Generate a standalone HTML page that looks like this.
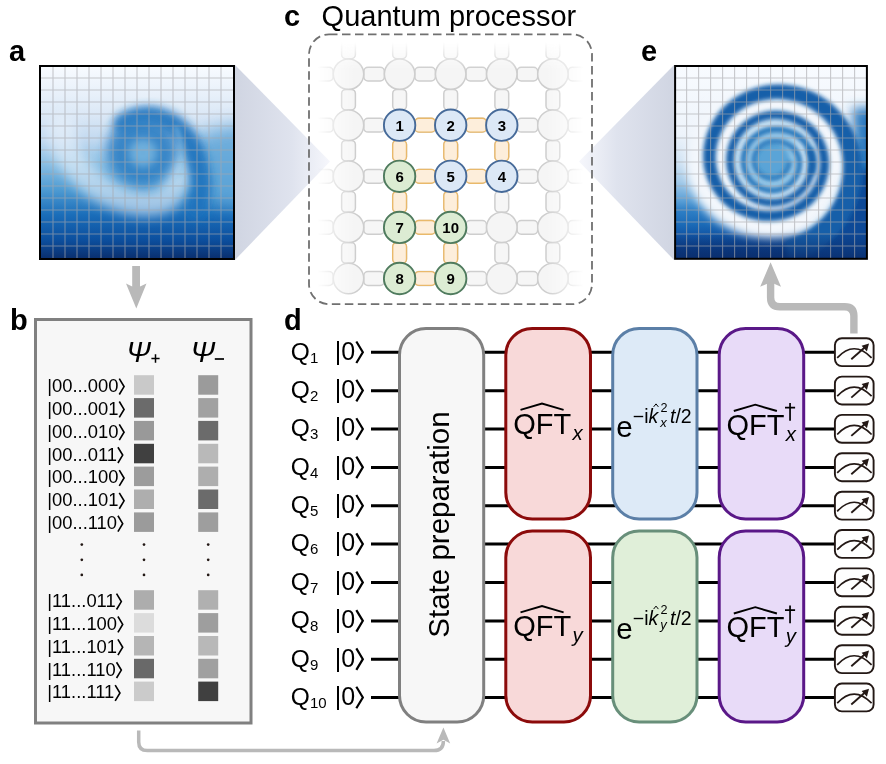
<!DOCTYPE html>
<html><head><meta charset="utf-8"><title>Quantum processor figure</title>
<style>html,body{margin:0;padding:0;background:#fff;}body{width:886px;height:764px;overflow:hidden;}svg{display:block;will-change:transform;}text{font-family:"Liberation Sans",sans-serif;}</style>
</head><body>
<svg width="886" height="764" viewBox="0 0 886 764">
<defs>
<linearGradient id="bgA" x1="0" y1="0" x2="0" y2="1">
<stop offset="0" stop-color="#f8fbff"/>
<stop offset="0.25" stop-color="#dbe8f6"/>
<stop offset="0.38" stop-color="#c2d9f0"/>
<stop offset="0.50" stop-color="#8cc0e4"/>
<stop offset="0.64" stop-color="#4f9cd3"/>
<stop offset="0.775" stop-color="#1a6db9"/>
<stop offset="0.905" stop-color="#0c4f9e"/>
<stop offset="1" stop-color="#0a3070"/>
</linearGradient>
<linearGradient id="bgE" x1="0" y1="0" x2="0" y2="1">
<stop offset="0" stop-color="#f8fbff"/>
<stop offset="0.35" stop-color="#eef4fb"/>
<stop offset="0.50" stop-color="#cfe2f3"/>
<stop offset="0.60" stop-color="#a3cae9"/>
<stop offset="0.70" stop-color="#5a9fd6"/>
<stop offset="0.75" stop-color="#2f80c6"/>
<stop offset="0.82" stop-color="#1c6cb8"/>
<stop offset="0.875" stop-color="#1258a8"/>
<stop offset="0.96" stop-color="#0b3f8a"/>
<stop offset="1" stop-color="#0a3276"/>
</linearGradient>
<linearGradient id="navy" x1="0" y1="0" x2="0" y2="1"><stop offset="0" stop-color="#0a2f70" stop-opacity="0"/><stop offset="1" stop-color="#0a2f70" stop-opacity="0.9"/></linearGradient>
<linearGradient id="triL" x1="0" y1="0" x2="1" y2="0"><stop offset="0" stop-color="#d0d5e2"/><stop offset="0.6" stop-color="#dfe3ee"/><stop offset="1" stop-color="#f6f7fc"/></linearGradient>
<linearGradient id="triR" x1="1" y1="0" x2="0" y2="0"><stop offset="0" stop-color="#d0d5e2"/><stop offset="0.6" stop-color="#dfe3ee"/><stop offset="1" stop-color="#f6f7fc"/></linearGradient>
<filter id="bl0" filterUnits="userSpaceOnUse" x="0" y="0" width="886" height="764"><feGaussianBlur stdDeviation="1.9"/></filter>
<filter id="bl1" filterUnits="userSpaceOnUse" x="0" y="0" width="886" height="764"><feGaussianBlur stdDeviation="2.5"/></filter>
<filter id="bl2" filterUnits="userSpaceOnUse" x="0" y="0" width="886" height="764"><feGaussianBlur stdDeviation="4"/></filter>
<filter id="bl3" filterUnits="userSpaceOnUse" x="0" y="0" width="886" height="764"><feGaussianBlur stdDeviation="6"/></filter>
<filter id="bl4" filterUnits="userSpaceOnUse" x="0" y="0" width="886" height="764"><feGaussianBlur stdDeviation="9"/></filter>
<clipPath id="clipA"><rect x="41" y="67" width="192" height="191"/></clipPath>
<clipPath id="clipE"><rect x="676" y="67" width="190.5" height="191.5"/></clipPath>
<linearGradient id="fx" x1="0" y1="0" x2="1" y2="0">
<stop offset="0" stop-color="#000"/><stop offset="0.03" stop-color="#000"/><stop offset="0.16" stop-color="#fff"/>
<stop offset="0.84" stop-color="#fff"/><stop offset="0.97" stop-color="#000"/><stop offset="1" stop-color="#000"/></linearGradient>
<linearGradient id="fy" x1="0" y1="0" x2="0" y2="1">
<stop offset="0" stop-color="#000"/><stop offset="0.03" stop-color="#000"/><stop offset="0.13" stop-color="#fff"/>
<stop offset="1" stop-color="#fff"/></linearGradient>
<mask id="mx" maskUnits="userSpaceOnUse" x="300" y="30" width="300" height="280"><rect x="309" y="34" width="283" height="270" fill="url(#fx)"/></mask>
<mask id="my" maskUnits="userSpaceOnUse" x="300" y="30" width="300" height="280"><rect x="309" y="34" width="283" height="270" fill="url(#fy)"/></mask>
</defs>
<rect width="886" height="764" fill="#fff"/>
<polygon points="235,65 235,260 330,161.5" fill="url(#triL)"/>
<polygon points="674,65 674,260 579,161.5" fill="url(#triR)"/>
<g clip-path="url(#clipA)">
<rect x="41" y="67" width="192" height="191" fill="url(#bgA)"/>
<ellipse cx="242" cy="166" rx="60" ry="40" fill="#5ea5d8" filter="url(#bl4)" opacity="0.85"/>
<path d="M 62 126 C 60 160, 94 192, 128 200 S 174 198, 180 170" fill="none" stroke="#e9f2fb" stroke-width="27" stroke-linecap="round" filter="url(#bl3)" opacity="0.62"/>
<path d="M 124 124 C 150 106, 186 122, 196 158 S 199 190, 197 208" fill="none" stroke="#1f72bd" stroke-width="21" stroke-linecap="round" filter="url(#bl2)" opacity="0.9"/>
<circle cx="142" cy="151" r="35" fill="#2f80c5" filter="url(#bl3)" opacity="0.92"/>
<circle cx="143" cy="153" r="14" fill="#84bfe4" filter="url(#bl2)" opacity="0.72"/>
<path d="M 176 128 C 182 140, 184 156, 180 176" fill="none" stroke="#8cc3e6" stroke-width="5" stroke-linecap="round" filter="url(#bl1)" opacity="0.55"/>
<path d="M53 67V258 M65 67V258 M77 67V258 M89 67V258 M101 67V258 M113 67V258 M125 67V258 M137 67V258 M149 67V258 M161 67V258 M173 67V258 M185 67V258 M197 67V258 M209 67V258 M221 67V258 M41 78H233 M41 90H233 M41 102H233 M41 114H233 M41 126H233 M41 138H233 M41 150H233 M41 162H233 M41 174H233 M41 186H233 M41 198H233 M41 210H233 M41 222H233 M41 234H233 M41 246H233" stroke="#a8a8ac" stroke-opacity="0.62" stroke-width="1.1" fill="none"/>
</g>
<rect x="40" y="66" width="194" height="193" fill="none" stroke="#000" stroke-width="2"/>
<g clip-path="url(#clipE)">
<rect x="676" y="67" width="191" height="191" fill="url(#bgE)"/>
<ellipse cx="772" cy="161" rx="86" ry="78" fill="#f3f7fc" filter="url(#bl2)"/>
<path d="M 880 108 L 852 108 C 858 150, 852 196, 822 226 C 808 240, 796 250, 790 270 L 880 270 Z" fill="#2b79bf" filter="url(#bl3)"/>
<path d="M 880 170 L 852 170 C 850 200, 838 222, 818 238 C 806 248, 800 256, 796 270 L 880 270 Z" fill="#0d4a97" filter="url(#bl2)"/>
<ellipse cx="772.3" cy="160.0" rx="42" ry="45" fill="#cfe4f4" filter="url(#bl1)"/>
<ellipse cx="772.3" cy="160.0" rx="28" ry="31" fill="#9ccbe9" filter="url(#bl1)"/>
<ellipse cx="772.3" cy="160.5" rx="18" ry="18.8" fill="#5aa4d7" filter="url(#bl1)"/>
<path d="M791.4 161.0 L791.4 161.5 L791.4 162.0 L791.4 162.5 L791.3 163.0 L791.3 163.5 L791.2 163.9 L791.1 164.4 L791.0 164.9 L790.9 165.4 L790.8 165.9 L790.7 166.4 L790.5 166.8 L790.4 167.3 L790.2 167.8 L790.0 168.2 L789.9 168.7 L789.7 169.1 L789.4 169.6 L789.2 170.0 L789.0 170.5 L788.7 170.9 L788.5 171.3 L788.2 171.7 L787.9 172.2 L787.6 172.6 L787.4 173.0 L787.0 173.3 L786.7 173.7 L786.4 174.1 L786.1 174.5 L785.7 174.8 L785.4 175.2 L785.0 175.5 L784.6 175.8 L784.2 176.1 L783.8 176.5 L783.4 176.8 L783.0 177.0 L782.6 177.3 L782.2 177.6 L781.8 177.8 L781.3 178.1 L780.9 178.3 L780.5 178.6 L780.0 178.8 L779.5 179.0 L779.1 179.2 L778.6 179.3 L778.1 179.5 L777.7 179.6 L777.2 179.8 L776.7 179.9 L776.2 180.0 L775.7 180.1 L775.2 180.2 L774.7 180.3 L774.2 180.4 L773.7 180.4 L773.2 180.5 L772.7 180.5 L772.2 180.5 L771.7 180.5 L771.2 180.5 L770.7 180.5 L770.2 180.4 L769.7 180.4 L769.2 180.3 L768.7 180.2 L768.2 180.2 L767.7 180.1 L767.2 179.9 L766.7 179.8 L766.2 179.7 L765.8 179.5 L765.3 179.4 L764.8 179.2 L764.3 179.0 L763.9 178.8 L763.4 178.6 L762.9 178.4 L762.5 178.1 L762.0 177.9 L761.6 177.6 L761.2 177.4 L760.7 177.1 L760.3 176.8 L759.9 176.5 L759.5 176.2 L759.1 175.9 L758.7 175.5 L758.3 175.2 L757.9 174.8 L757.6 174.5 L757.2 174.1 L756.9 173.7 L756.5 173.3 L756.2 172.9 L755.9 172.5 L755.6 172.1 L755.3 171.7 L755.0 171.2 L754.7 170.8 L754.5 170.4 L754.2 169.9 L754.0 169.4 L753.7 169.0 L753.5 168.5 L753.3 168.0 L753.1 167.5 L752.9 167.0 L752.8 166.5 L752.6 166.0 L752.5 165.5 L752.4 165.0 L752.2 164.5 L752.1 164.0 L752.0 163.5 L752.0 163.0 L751.9 162.4 L751.9 161.9 L751.8 161.4 L751.8 160.8 L751.8 160.3 L751.8 159.8 L751.8 159.3 L751.8 158.7 L751.9 158.2 L752.0 157.7 L752.0 157.1 L752.1 156.6 L752.2 156.1 L752.3 155.6 L752.5 155.1 L752.6 154.5 L752.8 154.0 L752.9 153.5 L753.1 153.0 L753.3 152.5 L753.5 152.0 L753.8 151.5 L754.0 151.0 L754.2 150.6 L754.5 150.1 L754.8 149.6 L755.1 149.2 L755.4 148.7 L755.7 148.3 L756.0 147.8 L756.3 147.4 L756.7 147.0 L757.0 146.6 L757.4 146.2 L757.7 145.8 L758.1 145.4 L758.5 145.0 L758.9 144.6 L759.3 144.3 L759.8 143.9 L760.2 143.6 L760.6 143.3 L761.1 143.0 L761.5 142.7 L762.0 142.4 L762.5 142.1 L763.0 141.8 L763.4 141.6 L763.9 141.3 L764.4 141.1 L764.9 140.9 L765.5 140.6 L766.0 140.4 L766.5 140.3 L767.0 140.1 L767.6 139.9 L768.1 139.8 L768.6 139.6 L769.2 139.5 L769.7 139.4 L770.3 139.3 L770.9 139.2 L771.4 139.2 L772.0 139.1 L772.5 139.1 L773.1 139.1 L773.7 139.0 L774.3 139.0 L774.8 139.0 L775.4 139.0 L776.0 139.0 L776.6 139.0 L777.2 139.0 L777.7 139.1 L778.3 139.1 L778.9 139.2 L779.5 139.3 L780.1 139.3 L780.7 139.4 L781.3 139.5 L781.9 139.6 L782.6 139.8 L783.2 139.9 L783.8 140.1 L784.4 140.3 L785.0 140.5 L785.6 140.7 L786.2 140.9 L786.8 141.1 L787.4 141.4 L788.0 141.6 L788.6 141.9 L789.2 142.2 L789.8 142.6 L790.4 142.9 L791.0 143.3 L791.6 143.6 L792.1 144.0 L792.7 144.4 L793.2 144.9 L793.8 145.3 L794.3 145.8 L794.8 146.3 L795.3 146.8 L795.8 147.3 L796.3 147.8 L796.8 148.4 L797.3 149.0 L797.7 149.5 L798.1 150.2 L798.5 150.8 L798.9 151.4 L799.3 152.0 L799.6 152.7 L799.9 153.4 L800.3 154.1 L800.5 154.8 L800.8 155.5 L801.0 156.2 L801.3 156.9 L801.5 157.7 L801.6 158.4 L801.8 159.2 L801.9 159.9 L802.0 160.7 L802.0 161.4 L802.1 162.2 L802.1 163.0 L802.1 163.8 L802.1 164.5 L802.1 165.3 L802.0 166.1 L801.9 166.9 L801.8 167.7 L801.7 168.4 L801.6 169.2 L801.4 170.0 L801.2 170.7 L801.0 171.5 L800.8 172.3 L800.6 173.0 L800.3 173.8 L800.0 174.5 L799.7 175.3 L799.4 176.0 L799.0 176.7 L798.7 177.4 L798.3 178.1 L797.9 178.8 L797.5 179.5 L797.0 180.2 L796.5 180.9 L796.1 181.5 L795.6 182.2 L795.0 182.8 L794.5 183.4 L794.0 184.0 L793.4 184.6 L792.8 185.2 L792.2 185.7 L791.6 186.3 L791.0 186.8 L790.3 187.3 L789.6 187.8 L789.0 188.3 L788.3 188.7 L787.6 189.1 L786.9 189.6 L786.1 190.0 L785.4 190.3 L784.6 190.7 L783.9 191.0 L783.1 191.3 L782.3 191.6 L781.6 191.9 L780.8 192.2 L780.0 192.4 L779.1 192.6 L778.3 192.8 L777.5 192.9 L776.7 193.1 L775.9 193.2 L775.0 193.3 L774.2 193.3 L773.4 193.4 L772.5 193.4 L771.7 193.4 L770.9 193.4 L770.0 193.3 L769.2 193.2 L768.4 193.2 L767.5 193.0 L766.7 192.9 L765.9 192.7 L765.1 192.6 L764.3 192.3 L763.5 192.1 L762.7 191.9 L761.9 191.6 L761.1 191.3 L760.3 191.0 L759.5 190.7 L758.8 190.3 L758.0 189.9 L757.3 189.6 L756.6 189.1 L755.9 188.7 L755.2 188.3 L754.5 187.8 L753.8 187.3 L753.1 186.8 L752.5 186.3 L751.9 185.8 L751.2 185.2 L750.6 184.7 L750.0 184.1 L749.5 183.5 L748.9 182.9 L748.4 182.2 L747.8 181.6 L747.3 181.0 L746.8 180.3 L746.4 179.6 L745.9 178.9 L745.5 178.2 L745.0 177.5 L744.6 176.8 L744.2 176.1 L743.9 175.4 L743.5 174.6 L743.2 173.9 L742.9 173.1 L742.6 172.3 L742.3 171.6 L742.1 170.8 L741.8 170.0 L741.6 169.2 L741.4 168.4 L741.3 167.6 L741.1 166.8 L741.0 166.0 L740.9 165.2 L740.8 164.4 L740.7 163.6 L740.6 162.7 L740.6 161.9 L740.6 161.1 L740.6 160.3 L740.6 159.5 L740.7 158.6 L740.7 157.8 L740.8 157.0 L740.9 156.2 L741.0 155.4 L741.2 154.6 L741.3 153.8 L741.5 153.0 L741.7 152.2 L741.9 151.4 L742.2 150.6 L742.4 149.8 L742.7 149.0 L743.0 148.3 L743.3 147.5 L743.6 146.7 L744.0 146.0 L744.3 145.2 L744.7 144.5 L745.1 143.8 L745.5 143.1 L746.0 142.4 L746.4 141.7 L746.9 141.0 L747.4 140.3 L747.9 139.6 L748.4 139.0 L749.0 138.3 L749.5 137.7 L750.1 137.1 L750.7 136.5 L751.3 135.9 L751.9 135.3 L752.6 134.8 L753.2 134.2 L753.9 133.7 L754.6 133.2 L755.3 132.7 L756.0 132.2 L756.7 131.7 L757.4 131.3 L758.2 130.9 L758.9 130.4 L759.7 130.1 L760.5 129.7 L761.3 129.3 L762.1 129.0 L762.9 128.7 L763.7 128.4 L764.5 128.1 L765.4 127.9 L766.2 127.6 L767.1 127.4 L767.9 127.2 L768.8 127.0 L769.7 126.9 L770.6 126.8 L771.4 126.7 L772.3 126.6 L773.2 126.5 L774.1 126.5 L775.0 126.5 L775.9 126.4 L776.8 126.4 L777.7 126.5 L778.6 126.5 L779.5 126.6 L780.5 126.6 L781.4 126.7 L782.3 126.8 L783.2 127.0 L784.1 127.1 L785.1 127.3 L786.0 127.5 L786.9 127.7 L787.9 127.9 L788.8 128.2 L789.7 128.5 L790.6 128.8 L791.5 129.1 L792.5 129.4 L793.4 129.8 L794.3 130.2 L795.2 130.6 L796.1 131.1 L797.0 131.6 L797.8 132.1 L798.7 132.6 L799.6 133.1 L800.4 133.7 L801.3 134.3 L802.1 135.0 L802.9 135.6 L803.7 136.3 L804.5 137.0 L805.2 137.7 L806.0 138.5 L806.7 139.3 L807.4 140.1 L808.1 140.9 L808.7 141.7 L809.4 142.6 L810.0 143.5 L810.6 144.4 L811.1 145.4 L811.7 146.3 L812.2 147.3 L812.7 148.3 L813.1 149.3 L813.5 150.3 L813.9 151.4 L814.3 152.4 L814.6 153.5 L814.9 154.5 L815.1 155.6 L815.3 156.7 L815.5 157.8 L815.6 159.0 L815.7 160.1 L815.8 161.2 L815.8 162.3 L815.8 163.4 L815.8 164.6 L815.8 165.7 L815.7 166.8 L815.6 167.9 L815.4 169.1 L815.2 170.2 L815.0 171.3 L814.8 172.4 L814.5 173.5 L814.2 174.6 L807.5 172.4 L807.7 171.5 L808.0 170.6 L808.2 169.6 L808.3 168.7 L808.5 167.8 L808.6 166.8 L808.7 165.9 L808.8 164.9 L808.8 164.0 L808.8 163.0 L808.8 162.1 L808.8 161.2 L808.8 160.2 L808.7 159.3 L808.5 158.3 L808.4 157.4 L808.2 156.5 L808.0 155.6 L807.8 154.7 L807.5 153.8 L807.2 152.9 L806.9 152.0 L806.5 151.2 L806.1 150.3 L805.7 149.5 L805.3 148.7 L804.8 147.9 L804.4 147.1 L803.9 146.4 L803.4 145.6 L802.8 144.9 L802.3 144.2 L801.7 143.5 L801.1 142.8 L800.5 142.2 L799.8 141.5 L799.2 140.9 L798.5 140.4 L797.9 139.8 L797.2 139.3 L796.5 138.7 L795.8 138.2 L795.1 137.8 L794.3 137.3 L793.6 136.9 L792.9 136.5 L792.1 136.1 L791.4 135.7 L790.6 135.4 L789.8 135.0 L789.1 134.7 L788.3 134.5 L787.5 134.2 L786.8 134.0 L786.0 133.7 L785.2 133.5 L784.4 133.3 L783.7 133.2 L782.9 133.0 L782.1 132.9 L781.3 132.8 L780.6 132.7 L779.8 132.6 L779.1 132.5 L778.3 132.5 L777.5 132.5 L776.8 132.4 L776.0 132.4 L775.3 132.4 L774.5 132.5 L773.8 132.5 L773.1 132.5 L772.3 132.6 L771.6 132.7 L770.9 132.8 L770.1 132.9 L769.4 133.0 L768.7 133.1 L768.0 133.3 L767.3 133.5 L766.6 133.7 L765.9 133.9 L765.2 134.1 L764.6 134.4 L763.9 134.7 L763.2 134.9 L762.6 135.2 L761.9 135.5 L761.3 135.9 L760.7 136.2 L760.1 136.6 L759.5 137.0 L758.9 137.3 L758.3 137.7 L757.7 138.2 L757.2 138.6 L756.6 139.0 L756.1 139.5 L755.6 139.9 L755.1 140.4 L754.6 140.9 L754.1 141.4 L753.7 141.9 L753.2 142.4 L752.8 143.0 L752.3 143.5 L751.9 144.1 L751.5 144.6 L751.1 145.2 L750.8 145.8 L750.4 146.3 L750.1 146.9 L749.8 147.5 L749.4 148.1 L749.1 148.7 L748.9 149.3 L748.6 150.0 L748.3 150.6 L748.1 151.2 L747.9 151.9 L747.7 152.5 L747.5 153.1 L747.3 153.8 L747.2 154.4 L747.0 155.1 L746.9 155.8 L746.8 156.4 L746.7 157.1 L746.6 157.7 L746.5 158.4 L746.5 159.1 L746.4 159.7 L746.4 160.4 L746.4 161.1 L746.4 161.8 L746.4 162.4 L746.5 163.1 L746.5 163.8 L746.6 164.4 L746.7 165.1 L746.8 165.7 L746.9 166.4 L747.1 167.1 L747.2 167.7 L747.4 168.4 L747.6 169.0 L747.8 169.6 L748.0 170.3 L748.2 170.9 L748.5 171.5 L748.7 172.2 L749.0 172.8 L749.3 173.4 L749.6 174.0 L749.9 174.6 L750.3 175.1 L750.6 175.7 L751.0 176.3 L751.4 176.8 L751.8 177.4 L752.2 177.9 L752.6 178.5 L753.1 179.0 L753.5 179.5 L754.0 180.0 L754.5 180.5 L755.0 180.9 L755.5 181.4 L756.0 181.8 L756.5 182.3 L757.1 182.7 L757.6 183.1 L758.2 183.5 L758.8 183.8 L759.3 184.2 L759.9 184.5 L760.5 184.9 L761.2 185.2 L761.8 185.5 L762.4 185.8 L763.0 186.0 L763.7 186.3 L764.3 186.5 L765.0 186.7 L765.7 186.9 L766.3 187.1 L767.0 187.2 L767.7 187.4 L768.4 187.5 L769.0 187.6 L769.7 187.7 L770.4 187.7 L771.1 187.8 L771.8 187.8 L772.5 187.8 L773.2 187.8 L773.9 187.8 L774.6 187.7 L775.2 187.6 L775.9 187.5 L776.6 187.4 L777.3 187.3 L778.0 187.1 L778.6 187.0 L779.3 186.8 L780.0 186.6 L780.6 186.3 L781.2 186.1 L781.9 185.8 L782.5 185.6 L783.1 185.3 L783.7 184.9 L784.3 184.6 L784.9 184.3 L785.5 183.9 L786.1 183.5 L786.6 183.1 L787.2 182.7 L787.7 182.3 L788.2 181.9 L788.7 181.4 L789.2 180.9 L789.7 180.5 L790.2 180.0 L790.6 179.5 L791.1 179.0 L791.5 178.4 L791.9 177.9 L792.3 177.4 L792.7 176.8 L793.0 176.3 L793.4 175.7 L793.7 175.1 L794.0 174.5 L794.3 173.9 L794.6 173.3 L794.8 172.7 L795.1 172.1 L795.3 171.5 L795.5 170.9 L795.7 170.3 L795.9 169.6 L796.0 169.0 L796.2 168.4 L796.3 167.7 L796.4 167.1 L796.5 166.5 L796.6 165.8 L796.6 165.2 L796.7 164.5 L796.7 163.9 L796.7 163.3 L796.7 162.6 L796.7 162.0 L796.6 161.4 L796.6 160.7 L796.5 160.1 L796.4 159.5 L796.3 158.9 L796.1 158.3 L796.0 157.7 L795.8 157.1 L795.6 156.5 L795.3 155.9 L795.1 155.3 L794.8 154.8 L794.6 154.2 L794.3 153.7 L793.9 153.2 L793.6 152.7 L793.3 152.2 L792.9 151.7 L792.6 151.2 L792.2 150.8 L791.8 150.3 L791.4 149.9 L791.0 149.5 L790.5 149.1 L790.1 148.7 L789.7 148.3 L789.2 148.0 L788.8 147.6 L788.3 147.3 L787.8 147.0 L787.3 146.7 L786.9 146.4 L786.4 146.2 L785.9 145.9 L785.4 145.7 L784.9 145.5 L784.4 145.3 L783.9 145.1 L783.4 144.9 L782.9 144.7 L782.4 144.6 L781.9 144.4 L781.5 144.3 L781.0 144.2 L780.5 144.1 L780.0 144.0 L779.5 143.9 L779.0 143.8 L778.5 143.8 L778.0 143.7 L777.6 143.7 L777.1 143.7 L776.6 143.6 L776.2 143.6 L775.7 143.6 L775.2 143.6 L774.8 143.6 L774.3 143.6 L773.8 143.6 L773.4 143.6 L772.9 143.7 L772.5 143.7 L772.0 143.7 L771.6 143.8 L771.2 143.8 L770.7 143.9 L770.3 144.0 L769.9 144.1 L769.4 144.1 L769.0 144.3 L768.6 144.4 L768.1 144.5 L767.7 144.6 L767.3 144.8 L766.9 144.9 L766.5 145.1 L766.1 145.3 L765.7 145.5 L765.3 145.7 L764.9 145.9 L764.6 146.1 L764.2 146.3 L763.8 146.6 L763.5 146.8 L763.1 147.0 L762.8 147.3 L762.4 147.6 L762.1 147.8 L761.8 148.1 L761.5 148.4 L761.1 148.7 L760.8 149.0 L760.5 149.3 L760.3 149.6 L760.0 150.0 L759.7 150.3 L759.5 150.6 L759.2 151.0 L759.0 151.3 L758.7 151.7 L758.5 152.1 L758.3 152.4 L758.1 152.8 L757.9 153.2 L757.7 153.6 L757.5 153.9 L757.4 154.3 L757.2 154.7 L757.1 155.1 L757.0 155.5 L756.8 155.9 L756.7 156.3 L756.6 156.7 L756.5 157.1 L756.4 157.6 L756.4 158.0 L756.3 158.4 L756.3 158.8 L756.2 159.2 L756.2 159.6 L756.2 160.0 L756.2 160.5 L756.2 160.9 L756.2 161.3 L756.2 161.7 L756.3 162.1 L756.3 162.5 L756.4 162.9 L756.5 163.4 L756.5 163.8 L756.6 164.2 L756.7 164.6 L756.8 165.0 L757.0 165.3 L757.1 165.7 L757.2 166.1 L757.4 166.5 L757.6 166.9 L757.7 167.3 L757.9 167.6 L758.1 168.0 L758.3 168.3 L758.5 168.7 L758.7 169.0 L758.9 169.4 L759.2 169.7 L759.4 170.0 L759.7 170.4 L759.9 170.7 L760.2 171.0 L760.5 171.3 L760.7 171.6 L761.0 171.9 L761.3 172.1 L761.6 172.4 L761.9 172.7 L762.2 172.9 L762.6 173.2 L762.9 173.4 L763.2 173.6 L763.6 173.9 L763.9 174.1 L764.2 174.3 L764.6 174.5 L764.9 174.6 L765.3 174.8 L765.7 175.0 L766.0 175.1 L766.4 175.3 L766.8 175.4 L767.2 175.6 L767.5 175.7 L767.9 175.8 L768.3 175.9 L768.7 176.0 L769.1 176.0 L769.5 176.1 L769.9 176.2 L770.3 176.2 L770.7 176.3 L771.1 176.3 L771.5 176.3 L771.8 176.3 L772.2 176.3 L772.6 176.3 L773.0 176.3 L773.4 176.2 L773.8 176.2 L774.2 176.1 L774.6 176.1 L775.0 176.0 L775.4 175.9 L775.7 175.8 L776.1 175.7 L776.5 175.6 L776.9 175.5 L777.2 175.4 L777.6 175.2 L778.0 175.1 L778.3 174.9 L778.7 174.7 L779.0 174.6 L779.4 174.4 L779.7 174.2 L780.1 174.0 L780.4 173.8 L780.7 173.6 L781.0 173.3 L781.3 173.1 L781.6 172.8 L781.9 172.6 L782.2 172.3 L782.5 172.1 L782.8 171.8 L783.1 171.5 L783.3 171.2 L783.6 170.9 L783.8 170.6 L784.1 170.3 L784.3 170.0 L784.5 169.7 L784.7 169.4 L784.9 169.1 L785.1 168.7 L785.3 168.4 L785.5 168.1 L785.7 167.7 L785.8 167.4 L786.0 167.0 L786.1 166.6 L786.3 166.3 L786.4 165.9 L786.5 165.6 L786.6 165.2 L786.7 164.8 L786.8 164.4 L786.9 164.1 L787.0 163.7 L787.0 163.3 L787.1 162.9 L787.1 162.5 L787.2 162.2 L787.2 161.8 L787.2 161.4 L787.2 161.0Z" fill="#2473b9" filter="url(#bl0)"/>
<path d="M812.5 147.9 L812.9 148.9 L813.3 149.8 L813.7 150.8 L814.0 151.7 L814.3 152.7 L814.6 153.7 L814.9 154.7 L815.1 155.7 L815.3 156.7 L815.5 157.7 L815.6 158.8 L815.7 159.8 L815.8 160.8 L815.8 161.9 L815.8 162.9 L815.8 164.0 L815.8 165.0 L815.7 166.0 L815.7 167.1 L815.5 168.1 L815.4 169.2 L815.2 170.2 L815.1 171.2 L814.8 172.3 L814.6 173.3 L814.3 174.3 L814.0 175.3 L813.7 176.3 L813.4 177.3 L813.0 178.3 L812.6 179.3 L812.2 180.3 L811.8 181.2 L811.3 182.2 L810.8 183.1 L810.3 184.1 L809.8 185.0 L809.2 185.9 L808.7 186.8 L808.1 187.7 L807.5 188.5 L806.8 189.4 L806.1 190.2 L805.5 191.0 L804.8 191.8 L804.0 192.6 L803.3 193.4 L802.5 194.1 L801.7 194.9 L801.0 195.6 L800.1 196.3 L799.3 197.0 L798.5 197.6 L797.6 198.3 L796.7 198.9 L795.8 199.5 L794.9 200.0 L794.0 200.6 L793.0 201.1 L792.1 201.6 L791.1 202.1 L790.1 202.5 L789.1 203.0 L788.1 203.4 L787.1 203.8 L786.1 204.1 L785.1 204.5 L784.1 204.8 L783.0 205.1 L782.0 205.3 L780.9 205.6 L779.8 205.8 L778.8 206.0 L777.7 206.1 L776.6 206.2 L775.5 206.3 L774.5 206.4 L773.4 206.5 L772.3 206.5 L771.2 206.5 L770.1 206.5 L769.0 206.4 L767.9 206.3 L766.9 206.2 L765.8 206.1 L764.7 205.9 L763.6 205.8 L762.6 205.6 L761.5 205.3 L760.4 205.1 L759.4 204.8 L758.4 204.5 L757.3 204.1 L756.3 203.8 L755.3 203.4 L754.3 203.0 L753.3 202.5 L752.3 202.1 L751.3 201.6 L750.3 201.1 L749.4 200.5 L748.4 200.0 L747.5 199.4 L746.6 198.8 L745.7 198.2 L744.8 197.6 L743.9 196.9 L743.1 196.2 L742.3 195.5 L741.4 194.8 L740.6 194.1 L739.8 193.3 L739.1 192.5 L738.3 191.7 L737.6 190.9 L736.9 190.1 L736.2 189.2 L735.5 188.4 L734.9 187.5 L734.3 186.6 L733.7 185.7 L733.1 184.8 L732.5 183.8 L732.0 182.9 L731.5 181.9 L731.0 180.9 L730.5 179.9 L730.0 178.9 L729.6 177.9 L729.2 176.9 L728.8 175.9 L728.5 174.8 L728.2 173.8 L727.9 172.7 L727.6 171.7 L727.3 170.6 L727.1 169.5 L726.9 168.4 L726.7 167.4 L726.6 166.3 L726.4 165.2 L726.3 164.1 L726.3 163.0 L726.2 161.9 L726.2 160.8 L726.2 159.7 L726.2 158.6 L726.3 157.5 L726.3 156.4 L726.4 155.3 L726.6 154.2 L726.7 153.1 L726.9 152.0 L727.1 150.9 L727.3 149.8 L727.5 148.8 L727.8 147.7 L728.1 146.6 L728.4 145.5 L728.7 144.5 L729.1 143.4 L729.5 142.4 L729.9 141.4 L730.3 140.3 L730.8 139.3 L731.3 138.3 L731.8 137.3 L732.3 136.3 L732.9 135.3 L733.4 134.3 L734.0 133.4 L734.6 132.4 L735.3 131.5 L736.0 130.6 L736.6 129.7 L737.3 128.8 L738.1 127.9 L738.8 127.1 L739.6 126.2 L740.4 125.4 L741.2 124.6 L742.0 123.8 L742.9 123.0 L743.7 122.3 L744.6 121.6 L745.5 120.8 L746.5 120.2 L747.4 119.5 L748.4 118.8 L749.3 118.2 L750.3 117.6 L751.3 117.0 L752.4 116.5 L753.4 115.9 L754.5 115.4 L755.5 114.9 L756.6 114.5 L757.7 114.0 L758.8 113.6 L759.9 113.2 L761.0 112.9 L762.2 112.5 L763.3 112.2 L764.5 111.9 L765.6 111.7 L766.8 111.5 L768.0 111.3 L769.2 111.1 L770.3 111.0 L771.5 110.9 L772.7 110.8 L773.9 110.7 L775.1 110.7 L776.3 110.7 L777.6 110.7 L778.8 110.8 L780.0 110.9 L781.2 111.0 L782.4 111.1 L783.6 111.3 L784.8 111.4 L786.0 111.7 L787.2 111.9 L788.4 112.2 L789.6 112.5 L790.8 112.8 L792.0 113.2 L793.2 113.6 L794.3 114.0 L795.5 114.4 L796.7 114.9 L797.8 115.4 L798.9 115.9 L800.1 116.5 L801.2 117.0 L802.3 117.7 L803.4 118.3 L804.5 119.0 L805.5 119.6 L806.6 120.4 L807.6 121.1 L808.6 121.9 L809.6 122.7 L810.6 123.5 L811.6 124.3 L812.5 125.2 L813.5 126.1 L814.4 127.0 L815.3 128.0 L816.1 129.0 L817.0 129.9 L817.8 131.0 L818.6 132.0 L819.4 133.1 L820.1 134.1 L820.8 135.2 L821.5 136.3 L822.2 137.5 L822.8 138.6 L823.4 139.8 L824.0 141.0 L824.6 142.2 L825.1 143.4 L825.6 144.7 L826.1 145.9 L826.5 147.2 L826.9 148.5 L827.3 149.7 L827.6 151.0 L827.9 152.4 L828.2 153.7 L828.4 155.0 L828.6 156.3 L828.8 157.7 L828.9 159.0 L829.0 160.4 L829.1 161.7 L829.1 163.1 L829.1 164.4 L829.1 165.8 L829.0 167.2 L828.9 168.5 L828.8 169.9 L828.6 171.2 L828.4 172.6 L828.1 173.9 L827.9 175.3 L827.6 176.6 L827.2 177.9 L826.8 179.3 L826.4 180.6 L826.0 181.9 L825.5 183.2 L825.0 184.5 L824.5 185.7 L823.9 187.0 L823.3 188.2 L822.7 189.5 L822.0 190.7 L821.4 191.9 L820.6 193.1 L819.9 194.2 L819.1 195.4 L818.3 196.5 L817.5 197.6 L816.6 198.7 L815.8 199.8 L814.8 200.8 L813.9 201.9 L813.0 202.9 L812.0 203.9 L811.0 204.8 L809.9 205.8 L808.9 206.7 L807.8 207.6 L806.7 208.5 L805.6 209.3 L804.4 210.1 L803.3 210.9 L802.1 211.7 L800.9 212.4 L799.7 213.1 L798.5 213.8 L797.2 214.4 L796.0 215.1 L794.7 215.7 L793.4 216.2 L792.1 216.8 L790.8 217.3 L789.4 217.7 L788.1 218.2 L786.7 218.6 L785.4 219.0 L784.0 219.3 L782.6 219.7 L781.2 220.0 L779.8 220.2 L778.4 220.4 L777.0 220.6 L775.6 220.8 L774.1 220.9 L772.7 221.0 L771.3 221.1 L769.8 221.1 L768.4 221.1 L767.0 221.1 L765.5 221.1 L764.1 221.0 L762.6 220.9 L761.2 220.7 L759.7 220.5 L758.3 220.3 L756.9 220.1 L755.4 219.8 L754.0 219.5 L752.6 219.1 L751.1 218.8 L749.7 218.4 L748.3 217.9 L746.9 217.5 L745.5 217.0 L744.1 216.4 L742.7 215.8 L741.4 215.2 L740.0 214.6 L738.7 213.9 L737.3 213.2 L736.0 212.5 L734.7 211.8 L733.4 211.0 L732.1 210.1 L730.9 209.3 L729.6 208.4 L728.4 207.5 L727.2 206.5 L726.0 205.5 L724.9 204.5 L723.7 203.5 L722.6 202.4 L721.5 201.3 L720.4 200.2 L719.4 199.0 L718.4 197.8 L717.4 196.6 L716.4 195.4 L715.5 194.1 L714.6 192.8 L713.7 191.5 L712.8 190.2 L712.0 188.8 L711.2 187.4 L710.5 186.0 L709.7 184.6 L709.1 183.1 L708.4 181.7 L707.8 180.2 L707.2 178.7 L706.7 177.2 L706.2 175.6 L705.7 174.1 L705.3 172.5 L704.9 170.9 L704.5 169.3 L704.2 167.7 L703.9 166.1 L703.7 164.5 L703.5 162.8 L703.4 161.2 L703.3 159.5 L703.2 157.9 L703.2 156.2 L703.2 154.6 L703.2 152.9 L703.3 151.2 L703.5 149.6 L703.7 147.9 L703.9 146.3 L704.2 144.6 L704.5 143.0 L704.8 141.3 L705.2 139.7 L705.6 138.1 L706.1 136.4 L706.6 134.8 L707.2 133.2 L707.7 131.6 L708.4 130.1 L709.0 128.5 L709.7 126.9 L710.5 125.4 L711.3 123.9 L712.1 122.4 L712.9 120.9 L713.8 119.5 L714.8 118.0 L715.7 116.6 L716.7 115.2 L717.8 113.8 L718.8 112.5 L719.9 111.1 L721.1 109.8 L722.2 108.5 L723.4 107.3 L724.7 106.1 L725.9 104.9 L727.2 103.7 L728.5 102.5 L729.9 101.4 L731.2 100.3 L732.6 99.3 L734.1 98.3 L735.5 97.3 L737.0 96.3 L738.5 95.4 L740.0 94.5 L741.6 93.7 L743.2 92.9 L744.8 92.1 L746.4 91.3 L748.0 90.6 L749.6 90.0 L751.3 89.3 L753.0 88.7 L754.7 88.2 L756.4 87.6 L758.2 87.2 L759.9 86.7 L761.7 86.3 L763.4 86.0 L765.2 85.6 L767.0 85.3 L768.8 85.1 L770.6 84.9 L772.4 84.7 L774.2 84.6 L776.1 84.5 L777.9 84.5 L779.7 84.5 L781.6 84.6 L783.4 84.6 L785.3 84.8 L787.1 84.9 L789.0 85.2 L790.8 85.4 L792.7 85.7 L794.5 86.0 L796.3 86.4 L798.2 86.9 L800.0 87.3 L801.8 87.8 L803.6 88.4 L805.4 89.0 L807.2 89.6 L809.0 90.3 L810.8 91.1 L812.5 91.8 L814.3 92.6 L816.0 93.5 L817.7 94.4 L819.4 95.3 L821.1 96.3 L822.7 97.3 L824.3 98.4 L826.0 99.5 L827.6 100.6 L829.1 101.8 L830.7 103.1 L832.2 104.3 L833.7 105.6 L835.1 107.0 L836.6 108.3 L838.0 109.8 L839.4 111.2 L840.7 112.7 L842.0 114.2 L843.3 115.8 L844.6 117.4 L845.8 119.0 L846.9 120.7 L848.1 122.4 L849.2 124.1 L850.2 125.8 L851.3 127.6 L852.3 129.4 L853.2 131.3 L854.1 133.1 L854.9 135.0 L855.8 136.9 L856.5 138.9 L857.3 140.9 L857.9 142.8 L858.6 144.8 L859.1 146.9 L859.7 148.9 L860.2 151.0 L860.6 153.1 L861.0 155.2 L861.3 157.3 L861.6 159.4 L861.9 161.5 L862.0 163.7 L862.2 165.8 L862.3 168.0 L862.3 170.1 L862.3 172.3 L862.2 174.5 L862.1 176.7 L861.9 178.9 L861.7 181.0 L861.4 183.2 L861.1 185.4 L860.7 187.6 L860.3 189.8 L859.8 191.9 L859.3 194.1 L858.7 196.3 L858.0 198.4 L857.3 200.5 L856.6 202.7 L855.8 204.8 L854.9 206.9 L854.0 209.0 L853.1 211.0 L852.1 213.1 L851.0 215.1 L849.9 217.1 L848.7 219.1 L847.5 221.1 L846.3 223.0 L844.9 224.9 L843.6 226.8 L842.2 228.7 L840.7 230.5 L839.2 232.3 L837.7 234.1 L836.1 235.8 L834.4 237.5 L832.7 239.2 L831.0 240.8 L829.2 242.4 L827.4 243.9 L825.6 245.4 L823.7 246.9 L821.7 248.3 L819.8 249.7 L817.7 251.1 L815.7 252.4 L813.6 253.6 L811.5 254.8 L809.3 256.0 L807.1 257.1 L804.9 258.1 L802.7 259.1 L800.4 260.1 L798.1 261.0 L795.8 261.8 L793.4 262.6 L791.0 263.3 L788.6 264.0 L784.9 240.7 L786.8 240.2 L788.6 239.7 L790.5 239.1 L792.3 238.4 L794.1 237.8 L795.8 237.0 L797.6 236.3 L799.3 235.5 L801.0 234.6 L802.7 233.8 L804.3 232.8 L806.0 231.9 L807.6 230.9 L809.1 229.9 L810.7 228.8 L812.2 227.7 L813.7 226.6 L815.1 225.5 L816.6 224.3 L818.0 223.0 L819.3 221.8 L820.6 220.5 L821.9 219.2 L823.2 217.9 L824.4 216.5 L825.6 215.1 L826.7 213.7 L827.9 212.3 L828.9 210.8 L830.0 209.4 L831.0 207.9 L831.9 206.3 L832.9 204.8 L833.7 203.3 L834.6 201.7 L835.4 200.1 L836.2 198.5 L836.9 196.9 L837.6 195.2 L838.2 193.6 L838.9 192.0 L839.4 190.3 L839.9 188.6 L840.4 186.9 L840.9 185.2 L841.3 183.6 L841.6 181.9 L842.0 180.2 L842.3 178.4 L842.5 176.7 L842.7 175.0 L842.9 173.3 L843.0 171.6 L843.0 169.9 L843.1 168.2 L843.1 166.5 L843.0 164.8 L843.0 163.1 L842.8 161.4 L842.7 159.7 L842.5 158.1 L842.2 156.4 L842.0 154.7 L841.6 153.1 L841.3 151.5 L840.9 149.8 L840.4 148.2 L840.0 146.6 L839.5 145.1 L838.9 143.5 L838.3 142.0 L837.7 140.4 L837.1 138.9 L836.4 137.4 L835.7 136.0 L834.9 134.5 L834.2 133.1 L833.3 131.7 L832.5 130.3 L831.6 129.0 L830.7 127.6 L829.8 126.3 L828.8 125.0 L827.8 123.8 L826.8 122.5 L825.7 121.3 L824.7 120.1 L823.6 119.0 L822.5 117.9 L821.3 116.8 L820.1 115.7 L818.9 114.7 L817.7 113.7 L816.5 112.7 L815.2 111.8 L814.0 110.9 L812.7 110.0 L811.4 109.2 L810.1 108.3 L808.7 107.6 L807.4 106.8 L806.0 106.1 L804.6 105.4 L803.2 104.8 L801.8 104.2 L800.4 103.6 L799.0 103.1 L797.5 102.5 L796.1 102.1 L794.6 101.6 L793.1 101.2 L791.7 100.9 L790.2 100.5 L788.7 100.2 L787.2 100.0 L785.8 99.7 L784.3 99.6 L782.8 99.4 L781.3 99.3 L779.8 99.2 L778.3 99.1 L776.8 99.1 L775.4 99.1 L773.9 99.2 L772.4 99.2 L770.9 99.4 L769.5 99.5 L768.0 99.7 L766.5 99.9 L765.1 100.2 L763.7 100.4 L762.2 100.7 L760.8 101.1 L759.4 101.5 L758.0 101.9 L756.6 102.3 L755.3 102.8 L753.9 103.3 L752.6 103.8 L751.2 104.4 L749.9 105.0 L748.6 105.6 L747.3 106.3 L746.1 107.0 L744.8 107.7 L743.6 108.4 L742.4 109.2 L741.2 110.0 L740.0 110.8 L738.9 111.6 L737.8 112.5 L736.7 113.4 L735.6 114.3 L734.5 115.3 L733.5 116.2 L732.5 117.2 L731.5 118.3 L730.5 119.3 L729.6 120.3 L728.7 121.4 L727.8 122.5 L727.0 123.6 L726.2 124.8 L725.4 125.9 L724.6 127.1 L723.9 128.3 L723.2 129.5 L722.5 130.7 L721.8 132.0 L721.2 133.2 L720.6 134.5 L720.1 135.7 L719.6 137.0 L719.1 138.3 L718.6 139.6 L718.2 140.9 L717.8 142.3 L717.5 143.6 L717.1 144.9 L716.8 146.3 L716.6 147.6 L716.4 149.0 L716.2 150.3 L716.0 151.7 L715.9 153.0 L715.8 154.4 L715.7 155.7 L715.7 157.1 L715.7 158.4 L715.8 159.8 L715.9 161.1 L716.0 162.5 L716.1 163.8 L716.3 165.2 L716.5 166.5 L716.8 167.8 L717.0 169.1 L717.4 170.4 L717.7 171.7 L718.1 173.0 L718.5 174.2 L718.9 175.5 L719.4 176.7 L719.9 178.0 L720.4 179.2 L721.0 180.4 L721.6 181.5 L722.2 182.7 L722.8 183.8 L723.5 184.9 L724.2 186.0 L724.9 187.1 L725.6 188.2 L726.4 189.2 L727.2 190.3 L728.0 191.3 L728.8 192.2 L729.7 193.2 L730.6 194.1 L731.5 195.0 L732.4 195.9 L733.3 196.8 L734.3 197.6 L735.2 198.4 L736.2 199.2 L737.2 200.0 L738.2 200.7 L739.3 201.4 L740.3 202.1 L741.4 202.7 L742.5 203.4 L743.5 204.0 L744.6 204.6 L745.7 205.1 L746.9 205.6 L748.0 206.1 L749.1 206.6 L750.2 207.1 L751.4 207.5 L752.5 207.9 L753.7 208.2 L754.9 208.6 L756.0 208.9 L757.2 209.2 L758.4 209.4 L759.6 209.7 L760.8 209.9 L761.9 210.1 L763.1 210.2 L764.3 210.3 L765.5 210.4 L766.7 210.5 L767.9 210.6 L769.1 210.6 L770.3 210.6 L771.5 210.6 L772.6 210.5 L773.8 210.5 L775.0 210.4 L776.2 210.2 L777.3 210.1 L778.5 209.9 L779.7 209.7 L780.8 209.5 L782.0 209.2 L783.1 208.9 L784.2 208.6 L785.3 208.3 L786.5 207.9 L787.6 207.5 L788.7 207.1 L789.7 206.7 L790.8 206.2 L791.9 205.7 L792.9 205.2 L794.0 204.7 L795.0 204.1 L796.0 203.6 L797.0 203.0 L798.0 202.3 L798.9 201.7 L799.9 201.0 L800.8 200.3 L801.7 199.6 L802.6 198.9 L803.5 198.1 L804.3 197.3 L805.2 196.5 L806.0 195.7 L806.8 194.9 L807.6 194.0 L808.3 193.2 L809.1 192.3 L809.8 191.4 L810.5 190.5 L811.2 189.5 L811.8 188.6 L812.4 187.6 L813.0 186.6 L813.6 185.6 L814.2 184.6 L814.7 183.6 L815.2 182.6 L815.7 181.5 L816.1 180.5 L816.5 179.4 L816.9 178.4 L817.3 177.3 L817.6 176.2 L818.0 175.1 L818.2 174.0 L818.5 172.9 L818.7 171.8 L818.9 170.6 L819.1 169.5 L819.3 168.4 L819.4 167.3 L819.5 166.1 L819.5 165.0 L819.6 163.9 L819.6 162.7 L819.6 161.6 L819.5 160.5 L819.4 159.4 L819.3 158.2 L819.2 157.1 L819.0 156.0 L818.8 154.9 L818.6 153.8 L818.4 152.7 L818.1 151.6 L817.8 150.6 L817.5 149.5 L817.1 148.4 L816.7 147.4 L816.3 146.4 L815.9 145.3 L815.4 144.3 L814.9 143.3 L814.4 142.4 L813.9 141.4 L813.3 140.4 L812.7 139.5 L812.1 138.6 L811.5 137.7 L810.9 136.8 L810.2 136.0 L809.5 135.1 L808.8 134.3 L808.1 133.5 L807.4 132.7 L806.6 131.9 L805.8 131.2 L805.0 130.4 L804.2 129.7 L803.4 129.1 L802.6 128.4 L801.7 127.8 L800.9 127.1 L800.0 126.5 L799.1 126.0 L798.2 125.4 L797.3 124.9 L796.4 124.4 L795.4 123.9 L794.5 123.4 L793.6 123.0 L792.6 122.6 L791.6 122.2 L790.7 121.8 L789.7 121.5 L788.7 121.2 L787.7 120.9 L786.7 120.6 L785.7 120.3 L784.7 120.1 L783.7 119.9 L782.7 119.7 L781.7 119.6 L780.7 119.4 L779.7 119.3 L778.7 119.2 L777.7 119.2 L776.7 119.1 L775.7 119.1 L774.7 119.1 L773.7 119.1 L772.7 119.2 L771.7 119.2 L770.7 119.3 L769.7 119.5 L768.7 119.6 L767.7 119.8 L766.7 119.9 L765.8 120.2 L764.8 120.4 L763.9 120.7 L762.9 120.9 L762.0 121.2 L761.1 121.6 L760.1 121.9 L759.2 122.3 L758.3 122.7 L757.5 123.1 L756.6 123.5 L755.7 123.9 L754.9 124.4 L754.0 124.9 L753.2 125.4 L752.4 125.9 L751.6 126.5 L750.8 127.0 L750.1 127.6 L749.3 128.2 L748.6 128.8 L747.8 129.5 L747.1 130.1 L746.5 130.8 L745.8 131.4 L745.1 132.1 L744.5 132.8 L743.9 133.5 L743.3 134.3 L742.7 135.0 L742.1 135.8 L741.6 136.5 L741.0 137.3 L740.5 138.1 L740.0 138.9 L739.6 139.7 L739.1 140.5 L738.7 141.3 L738.2 142.1 L737.8 143.0 L737.5 143.8 L737.1 144.7 L736.8 145.6 L736.4 146.4 L736.1 147.3 L735.9 148.2 L735.6 149.1 L735.4 149.9 L735.1 150.8 L734.9 151.7 L734.8 152.6 L734.6 153.5 L734.5 154.4 L734.3 155.4 L734.2 156.3 L734.1 157.2 L734.1 158.1 L734.0 159.0 L734.0 159.9 L734.0 160.8 L734.0 161.7 L734.0 162.7 L734.1 163.6 L734.2 164.5 L734.3 165.4 L734.4 166.3 L734.5 167.2 L734.7 168.1 L734.9 169.0 L735.1 169.9 L735.3 170.8 L735.6 171.6 L735.8 172.5 L736.1 173.4 L736.4 174.2 L736.8 175.1 L737.1 175.9 L737.5 176.8 L737.9 177.6 L738.3 178.4 L738.7 179.2 L739.2 180.0 L739.6 180.8 L740.1 181.6 L740.6 182.3 L741.1 183.1 L741.7 183.8 L742.2 184.5 L742.8 185.2 L743.4 185.9 L744.0 186.6 L744.6 187.3 L745.2 187.9 L745.9 188.6 L746.5 189.2 L747.2 189.8 L747.9 190.4 L748.6 191.0 L749.4 191.5 L750.1 192.1 L750.8 192.6 L751.6 193.1 L752.4 193.6 L753.2 194.0 L753.9 194.5 L754.8 194.9 L755.6 195.3 L756.4 195.7 L757.2 196.1 L758.1 196.4 L758.9 196.7 L759.8 197.1 L760.6 197.3 L761.5 197.6 L762.4 197.8 L763.3 198.1 L764.2 198.3 L765.1 198.4 L765.9 198.6 L766.8 198.7 L767.8 198.9 L768.7 199.0 L769.6 199.0 L770.5 199.1 L771.4 199.1 L772.3 199.1 L773.2 199.1 L774.1 199.0 L775.0 199.0 L775.9 198.9 L776.8 198.8 L777.7 198.7 L778.6 198.5 L779.5 198.3 L780.4 198.1 L781.3 197.9 L782.1 197.7 L783.0 197.4 L783.9 197.2 L784.7 196.9 L785.6 196.5 L786.4 196.2 L787.2 195.8 L788.1 195.4 L788.9 195.0 L789.7 194.6 L790.5 194.2 L791.2 193.7 L792.0 193.3 L792.8 192.8 L793.5 192.2 L794.2 191.7 L794.9 191.2 L795.6 190.6 L796.3 190.0 L797.0 189.4 L797.7 188.8 L798.3 188.2 L798.9 187.5 L799.5 186.9 L800.1 186.2 L800.7 185.5 L801.2 184.8 L801.8 184.1 L802.3 183.4 L802.8 182.6 L803.3 181.9 L803.8 181.1 L804.2 180.3 L804.6 179.6 L805.0 178.8 L805.4 178.0 L805.8 177.2 L806.1 176.3 L806.5 175.5 L806.8 174.7 L807.1 173.8 L807.3 173.0 L807.6 172.2 L807.8 171.3 L808.0 170.4 L808.2 169.6 L808.3 168.7 L808.5 167.8 L808.6 167.0 L808.7 166.1 L808.7 165.2 L808.8 164.3 L808.8 163.5 L808.8 162.6 L808.8 161.7 L808.8 160.9 L808.7 160.0 L808.6 159.1 L808.5 158.3 L808.4 157.4 L808.2 156.5 L808.0 155.7 L807.8 154.9 L807.6 154.0 L807.3 153.2 L807.0 152.4 L806.7 151.6 L806.4 150.8 L806.0 150.0Z" fill="#165fa9" filter="url(#bl0)"/>
<rect x="676" y="232" width="192" height="27" fill="url(#navy)"/>
<path d="M686.6 67V258 M698.6 67V258 M710.6 67V258 M722.6 67V258 M734.6 67V258 M746.6 67V258 M758.6 67V258 M770.6 67V258 M782.6 67V258 M794.6 67V258 M806.6 67V258 M818.6 67V258 M830.6 67V258 M842.6 67V258 M854.6 67V258 M676 78H868 M676 90H868 M676 102H868 M676 114H868 M676 126H868 M676 138H868 M676 150H868 M676 162H868 M676 174H868 M676 186H868 M676 198H868 M676 210H868 M676 222H868 M676 234H868 M676 246H868" stroke="#a8a8ac" stroke-opacity="0.62" stroke-width="1.1" fill="none"/>
</g>
<rect x="675.1" y="66" width="191.8" height="192.8" fill="none" stroke="#000" stroke-width="2"/>
<g mask="url(#mx)"><g mask="url(#my)">
<rect x="312.6" y="67.2" width="20.6" height="13.8" rx="4.2" fill="#f6f6f6" stroke="#cecece" stroke-width="1.5"/>
<rect x="363.8" y="67.2" width="20.6" height="13.8" rx="4.2" fill="#f6f6f6" stroke="#cecece" stroke-width="1.5"/>
<rect x="414.8" y="67.2" width="20.6" height="13.8" rx="4.2" fill="#f6f6f6" stroke="#cecece" stroke-width="1.5"/>
<rect x="465.9" y="67.2" width="20.6" height="13.8" rx="4.2" fill="#f6f6f6" stroke="#cecece" stroke-width="1.5"/>
<rect x="517.1" y="67.2" width="20.6" height="13.8" rx="4.2" fill="#f6f6f6" stroke="#cecece" stroke-width="1.5"/>
<rect x="568.2" y="67.2" width="20.6" height="13.8" rx="4.2" fill="#f6f6f6" stroke="#cecece" stroke-width="1.5"/>
<rect x="312.6" y="118.3" width="20.6" height="13.8" rx="4.2" fill="#f6f6f6" stroke="#cecece" stroke-width="1.5"/>
<rect x="363.8" y="118.3" width="20.6" height="13.8" rx="4.2" fill="#f6f6f6" stroke="#cecece" stroke-width="1.5"/>
<rect x="414.8" y="118.3" width="20.6" height="13.8" rx="4.2" fill="#f6f6f6" stroke="#cecece" stroke-width="1.5"/>
<rect x="465.9" y="118.3" width="20.6" height="13.8" rx="4.2" fill="#f6f6f6" stroke="#cecece" stroke-width="1.5"/>
<rect x="517.1" y="118.3" width="20.6" height="13.8" rx="4.2" fill="#f6f6f6" stroke="#cecece" stroke-width="1.5"/>
<rect x="568.2" y="118.3" width="20.6" height="13.8" rx="4.2" fill="#f6f6f6" stroke="#cecece" stroke-width="1.5"/>
<rect x="312.6" y="169.4" width="20.6" height="13.8" rx="4.2" fill="#f6f6f6" stroke="#cecece" stroke-width="1.5"/>
<rect x="363.8" y="169.4" width="20.6" height="13.8" rx="4.2" fill="#f6f6f6" stroke="#cecece" stroke-width="1.5"/>
<rect x="414.8" y="169.4" width="20.6" height="13.8" rx="4.2" fill="#f6f6f6" stroke="#cecece" stroke-width="1.5"/>
<rect x="465.9" y="169.4" width="20.6" height="13.8" rx="4.2" fill="#f6f6f6" stroke="#cecece" stroke-width="1.5"/>
<rect x="517.1" y="169.4" width="20.6" height="13.8" rx="4.2" fill="#f6f6f6" stroke="#cecece" stroke-width="1.5"/>
<rect x="568.2" y="169.4" width="20.6" height="13.8" rx="4.2" fill="#f6f6f6" stroke="#cecece" stroke-width="1.5"/>
<rect x="312.6" y="220.5" width="20.6" height="13.8" rx="4.2" fill="#f6f6f6" stroke="#cecece" stroke-width="1.5"/>
<rect x="363.8" y="220.5" width="20.6" height="13.8" rx="4.2" fill="#f6f6f6" stroke="#cecece" stroke-width="1.5"/>
<rect x="414.8" y="220.5" width="20.6" height="13.8" rx="4.2" fill="#f6f6f6" stroke="#cecece" stroke-width="1.5"/>
<rect x="465.9" y="220.5" width="20.6" height="13.8" rx="4.2" fill="#f6f6f6" stroke="#cecece" stroke-width="1.5"/>
<rect x="517.1" y="220.5" width="20.6" height="13.8" rx="4.2" fill="#f6f6f6" stroke="#cecece" stroke-width="1.5"/>
<rect x="568.2" y="220.5" width="20.6" height="13.8" rx="4.2" fill="#f6f6f6" stroke="#cecece" stroke-width="1.5"/>
<rect x="312.6" y="271.6" width="20.6" height="13.8" rx="4.2" fill="#f6f6f6" stroke="#cecece" stroke-width="1.5"/>
<rect x="363.8" y="271.6" width="20.6" height="13.8" rx="4.2" fill="#f6f6f6" stroke="#cecece" stroke-width="1.5"/>
<rect x="414.8" y="271.6" width="20.6" height="13.8" rx="4.2" fill="#f6f6f6" stroke="#cecece" stroke-width="1.5"/>
<rect x="465.9" y="271.6" width="20.6" height="13.8" rx="4.2" fill="#f6f6f6" stroke="#cecece" stroke-width="1.5"/>
<rect x="517.1" y="271.6" width="20.6" height="13.8" rx="4.2" fill="#f6f6f6" stroke="#cecece" stroke-width="1.5"/>
<rect x="568.2" y="271.6" width="20.6" height="13.8" rx="4.2" fill="#f6f6f6" stroke="#cecece" stroke-width="1.5"/>
<rect x="341.6" y="38.2" width="13.8" height="20.6" rx="4.2" fill="#f6f6f6" stroke="#cecece" stroke-width="1.5"/>
<rect x="341.6" y="89.4" width="13.8" height="20.6" rx="4.2" fill="#f6f6f6" stroke="#cecece" stroke-width="1.5"/>
<rect x="341.6" y="140.4" width="13.8" height="20.6" rx="4.2" fill="#f6f6f6" stroke="#cecece" stroke-width="1.5"/>
<rect x="341.6" y="191.6" width="13.8" height="20.6" rx="4.2" fill="#f6f6f6" stroke="#cecece" stroke-width="1.5"/>
<rect x="341.6" y="242.6" width="13.8" height="20.6" rx="4.2" fill="#f6f6f6" stroke="#cecece" stroke-width="1.5"/>
<rect x="392.7" y="38.2" width="13.8" height="20.6" rx="4.2" fill="#f6f6f6" stroke="#cecece" stroke-width="1.5"/>
<rect x="392.7" y="89.4" width="13.8" height="20.6" rx="4.2" fill="#f6f6f6" stroke="#cecece" stroke-width="1.5"/>
<rect x="392.7" y="140.4" width="13.8" height="20.6" rx="4.2" fill="#f6f6f6" stroke="#cecece" stroke-width="1.5"/>
<rect x="392.7" y="191.6" width="13.8" height="20.6" rx="4.2" fill="#f6f6f6" stroke="#cecece" stroke-width="1.5"/>
<rect x="392.7" y="242.6" width="13.8" height="20.6" rx="4.2" fill="#f6f6f6" stroke="#cecece" stroke-width="1.5"/>
<rect x="443.8" y="38.2" width="13.8" height="20.6" rx="4.2" fill="#f6f6f6" stroke="#cecece" stroke-width="1.5"/>
<rect x="443.8" y="89.4" width="13.8" height="20.6" rx="4.2" fill="#f6f6f6" stroke="#cecece" stroke-width="1.5"/>
<rect x="443.8" y="140.4" width="13.8" height="20.6" rx="4.2" fill="#f6f6f6" stroke="#cecece" stroke-width="1.5"/>
<rect x="443.8" y="191.6" width="13.8" height="20.6" rx="4.2" fill="#f6f6f6" stroke="#cecece" stroke-width="1.5"/>
<rect x="443.8" y="242.6" width="13.8" height="20.6" rx="4.2" fill="#f6f6f6" stroke="#cecece" stroke-width="1.5"/>
<rect x="494.9" y="38.2" width="13.8" height="20.6" rx="4.2" fill="#f6f6f6" stroke="#cecece" stroke-width="1.5"/>
<rect x="494.9" y="89.4" width="13.8" height="20.6" rx="4.2" fill="#f6f6f6" stroke="#cecece" stroke-width="1.5"/>
<rect x="494.9" y="140.4" width="13.8" height="20.6" rx="4.2" fill="#f6f6f6" stroke="#cecece" stroke-width="1.5"/>
<rect x="494.9" y="191.6" width="13.8" height="20.6" rx="4.2" fill="#f6f6f6" stroke="#cecece" stroke-width="1.5"/>
<rect x="494.9" y="242.6" width="13.8" height="20.6" rx="4.2" fill="#f6f6f6" stroke="#cecece" stroke-width="1.5"/>
<rect x="546.0" y="38.2" width="13.8" height="20.6" rx="4.2" fill="#f6f6f6" stroke="#cecece" stroke-width="1.5"/>
<rect x="546.0" y="89.4" width="13.8" height="20.6" rx="4.2" fill="#f6f6f6" stroke="#cecece" stroke-width="1.5"/>
<rect x="546.0" y="140.4" width="13.8" height="20.6" rx="4.2" fill="#f6f6f6" stroke="#cecece" stroke-width="1.5"/>
<rect x="546.0" y="191.6" width="13.8" height="20.6" rx="4.2" fill="#f6f6f6" stroke="#cecece" stroke-width="1.5"/>
<rect x="546.0" y="242.6" width="13.8" height="20.6" rx="4.2" fill="#f6f6f6" stroke="#cecece" stroke-width="1.5"/>
<circle cx="348.5" cy="74.1" r="15.2" fill="#f5f5f5" stroke="#cecece" stroke-width="1.5"/>
<circle cx="399.6" cy="74.1" r="15.2" fill="#f5f5f5" stroke="#cecece" stroke-width="1.5"/>
<circle cx="450.7" cy="74.1" r="15.2" fill="#f5f5f5" stroke="#cecece" stroke-width="1.5"/>
<circle cx="501.8" cy="74.1" r="15.2" fill="#f5f5f5" stroke="#cecece" stroke-width="1.5"/>
<circle cx="552.9" cy="74.1" r="15.2" fill="#f5f5f5" stroke="#cecece" stroke-width="1.5"/>
<circle cx="348.5" cy="125.2" r="15.2" fill="#f5f5f5" stroke="#cecece" stroke-width="1.5"/>
<circle cx="399.6" cy="125.2" r="15.2" fill="#f5f5f5" stroke="#cecece" stroke-width="1.5"/>
<circle cx="450.7" cy="125.2" r="15.2" fill="#f5f5f5" stroke="#cecece" stroke-width="1.5"/>
<circle cx="501.8" cy="125.2" r="15.2" fill="#f5f5f5" stroke="#cecece" stroke-width="1.5"/>
<circle cx="552.9" cy="125.2" r="15.2" fill="#f5f5f5" stroke="#cecece" stroke-width="1.5"/>
<circle cx="348.5" cy="176.3" r="15.2" fill="#f5f5f5" stroke="#cecece" stroke-width="1.5"/>
<circle cx="399.6" cy="176.3" r="15.2" fill="#f5f5f5" stroke="#cecece" stroke-width="1.5"/>
<circle cx="450.7" cy="176.3" r="15.2" fill="#f5f5f5" stroke="#cecece" stroke-width="1.5"/>
<circle cx="501.8" cy="176.3" r="15.2" fill="#f5f5f5" stroke="#cecece" stroke-width="1.5"/>
<circle cx="552.9" cy="176.3" r="15.2" fill="#f5f5f5" stroke="#cecece" stroke-width="1.5"/>
<circle cx="348.5" cy="227.4" r="15.2" fill="#f5f5f5" stroke="#cecece" stroke-width="1.5"/>
<circle cx="399.6" cy="227.4" r="15.2" fill="#f5f5f5" stroke="#cecece" stroke-width="1.5"/>
<circle cx="450.7" cy="227.4" r="15.2" fill="#f5f5f5" stroke="#cecece" stroke-width="1.5"/>
<circle cx="501.8" cy="227.4" r="15.2" fill="#f5f5f5" stroke="#cecece" stroke-width="1.5"/>
<circle cx="552.9" cy="227.4" r="15.2" fill="#f5f5f5" stroke="#cecece" stroke-width="1.5"/>
<circle cx="348.5" cy="278.5" r="15.2" fill="#f5f5f5" stroke="#cecece" stroke-width="1.5"/>
<circle cx="399.6" cy="278.5" r="15.2" fill="#f5f5f5" stroke="#cecece" stroke-width="1.5"/>
<circle cx="450.7" cy="278.5" r="15.2" fill="#f5f5f5" stroke="#cecece" stroke-width="1.5"/>
<circle cx="501.8" cy="278.5" r="15.2" fill="#f5f5f5" stroke="#cecece" stroke-width="1.5"/>
<circle cx="552.9" cy="278.5" r="15.2" fill="#f5f5f5" stroke="#cecece" stroke-width="1.5"/>
</g></g>
<rect x="414.8" y="118.3" width="20.6" height="13.8" rx="4.2" fill="#fdeedb" stroke="#e9b96b" stroke-width="1.4"/>
<rect x="465.9" y="118.3" width="20.6" height="13.8" rx="4.2" fill="#fdeedb" stroke="#e9b96b" stroke-width="1.4"/>
<rect x="392.7" y="140.4" width="13.8" height="20.6" rx="4.2" fill="#fdeedb" stroke="#e9b96b" stroke-width="1.4"/>
<rect x="443.8" y="140.4" width="13.8" height="20.6" rx="4.2" fill="#fdeedb" stroke="#e9b96b" stroke-width="1.4"/>
<rect x="494.9" y="140.4" width="13.8" height="20.6" rx="4.2" fill="#fdeedb" stroke="#e9b96b" stroke-width="1.4"/>
<rect x="414.8" y="169.4" width="20.6" height="13.8" rx="4.2" fill="#fdeedb" stroke="#e9b96b" stroke-width="1.4"/>
<rect x="465.9" y="169.4" width="20.6" height="13.8" rx="4.2" fill="#fdeedb" stroke="#e9b96b" stroke-width="1.4"/>
<rect x="392.7" y="191.6" width="13.8" height="20.6" rx="4.2" fill="#fdeedb" stroke="#e9b96b" stroke-width="1.4"/>
<rect x="443.8" y="191.6" width="13.8" height="20.6" rx="4.2" fill="#fdeedb" stroke="#e9b96b" stroke-width="1.4"/>
<rect x="414.8" y="220.5" width="20.6" height="13.8" rx="4.2" fill="#fdeedb" stroke="#e9b96b" stroke-width="1.4"/>
<rect x="392.7" y="242.6" width="13.8" height="20.6" rx="4.2" fill="#fdeedb" stroke="#e9b96b" stroke-width="1.4"/>
<rect x="443.8" y="242.6" width="13.8" height="20.6" rx="4.2" fill="#fdeedb" stroke="#e9b96b" stroke-width="1.4"/>
<rect x="414.8" y="271.6" width="20.6" height="13.8" rx="4.2" fill="#fdeedb" stroke="#e9b96b" stroke-width="1.4"/>
<circle cx="399.6" cy="125.2" r="15.7" fill="#dce8f6" stroke="#466a99" stroke-width="1.9"/>
<text x="399.6" y="130.6" font-size="15" font-weight="bold" text-anchor="middle" fill="#000">1</text>
<circle cx="450.7" cy="125.2" r="15.7" fill="#dce8f6" stroke="#466a99" stroke-width="1.9"/>
<text x="450.7" y="130.6" font-size="15" font-weight="bold" text-anchor="middle" fill="#000">2</text>
<circle cx="501.8" cy="125.2" r="15.7" fill="#dce8f6" stroke="#466a99" stroke-width="1.9"/>
<text x="501.8" y="130.6" font-size="15" font-weight="bold" text-anchor="middle" fill="#000">3</text>
<circle cx="501.8" cy="176.3" r="15.7" fill="#dce8f6" stroke="#466a99" stroke-width="1.9"/>
<text x="501.8" y="181.70000000000002" font-size="15" font-weight="bold" text-anchor="middle" fill="#000">4</text>
<circle cx="450.7" cy="176.3" r="15.7" fill="#dce8f6" stroke="#466a99" stroke-width="1.9"/>
<text x="450.7" y="181.70000000000002" font-size="15" font-weight="bold" text-anchor="middle" fill="#000">5</text>
<circle cx="399.6" cy="176.3" r="15.7" fill="#dcecd3" stroke="#4f7b5e" stroke-width="1.9"/>
<text x="399.6" y="181.70000000000002" font-size="15" font-weight="bold" text-anchor="middle" fill="#000">6</text>
<circle cx="399.6" cy="227.4" r="15.7" fill="#dcecd3" stroke="#4f7b5e" stroke-width="1.9"/>
<text x="399.6" y="232.8" font-size="15" font-weight="bold" text-anchor="middle" fill="#000">7</text>
<circle cx="450.7" cy="227.4" r="15.7" fill="#dcecd3" stroke="#4f7b5e" stroke-width="1.9"/>
<text x="450.7" y="232.8" font-size="15" font-weight="bold" text-anchor="middle" fill="#000">10</text>
<circle cx="399.6" cy="278.5" r="15.7" fill="#dcecd3" stroke="#4f7b5e" stroke-width="1.9"/>
<text x="399.6" y="283.9" font-size="15" font-weight="bold" text-anchor="middle" fill="#000">8</text>
<circle cx="450.7" cy="278.5" r="15.7" fill="#dcecd3" stroke="#4f7b5e" stroke-width="1.9"/>
<text x="450.7" y="283.9" font-size="15" font-weight="bold" text-anchor="middle" fill="#000">9</text>
<rect x="309" y="34.3" width="283" height="269.9" rx="20" fill="none" stroke="#707070" stroke-width="1.8" stroke-dasharray="8.5 4.5"/>
<text x="9" y="61" font-size="29" font-weight="bold" fill="#000">a</text>
<text x="284" y="26" font-size="29" font-weight="bold" fill="#000">c</text>
<text x="641" y="61" font-size="29" font-weight="bold" fill="#000">e</text>
<text x="10" y="330" font-size="29" font-weight="bold" fill="#000">b</text>
<text x="284" y="330.3" font-size="29" font-weight="bold" fill="#000">d</text>
<text x="321.6" y="26" font-size="29" fill="#000">Quantum processor</text>
<path d="M132.2 266 H140 V286.5 L146.5 283.6 L136.3 308.4 L126 283.6 L132.2 286.5 Z" fill="#b9b9b9"/>
<path d="M138.7 730.5 V742 Q138.7 750.6 147.3 750.6 H434 Q443.4 750.6 443.4 741" fill="none" stroke="#b9b9b9" stroke-width="3.5"/>
<path d="M443.4 727.5 L450.2 743.6 L443.4 739.8 L436.6 743.6 Z" fill="#b9b9b9"/>
<path d="M853.9 333.4 V316 Q853.9 306.7 844.6 306.7 H780 Q770.6 306.7 770.6 297.4 V281" fill="none" stroke="#b9b9b9" stroke-width="7.4"/>
<path d="M770.6 262.3 L781 286.8 L770.6 282.2 L760.2 286.8 Z" fill="#b9b9b9"/>
<rect x="35.5" y="319.5" width="215.5" height="403.5" fill="#f7f7f7" stroke="#808080" stroke-width="3"/>
<text x="126.2" y="362" font-size="29.5" font-style="italic" fill="#000">Ψ</text>
<path d="M151.4 358.5H159.6M155.5 354.3V362.7" stroke="#000" stroke-width="1.5" fill="none"/>
<text x="190.5" y="362" font-size="29.5" font-style="italic" fill="#000">Ψ</text>
<path d="M214.8 359H224" stroke="#000" stroke-width="1.7" fill="none"/>
<text x="47.2" y="392.0" font-size="18.4" fill="#000">|00...000</text>
<path d="M119.28 378.66 L124.06 386.57 L119.28 394.48" fill="none" stroke="#000" stroke-width="1.62" stroke-linejoin="miter"/>
<rect x="134" y="375.2" width="20" height="19.5" fill="#c9c9c9"/>
<rect x="198.2" y="375.2" width="20" height="19.5" fill="#9b9b9b"/>
<text x="47.2" y="414.9" font-size="18.4" fill="#000">|00...001</text>
<path d="M119.28 401.51 L124.06 409.42 L119.28 417.33" fill="none" stroke="#000" stroke-width="1.62" stroke-linejoin="miter"/>
<rect x="134" y="398.1" width="20" height="19.5" fill="#6b6b6b"/>
<rect x="198.2" y="398.1" width="20" height="19.5" fill="#a1a1a1"/>
<text x="47.2" y="437.7" font-size="18.4" fill="#000">|00...010</text>
<path d="M119.28 424.36 L124.06 432.27 L119.28 440.18" fill="none" stroke="#000" stroke-width="1.62" stroke-linejoin="miter"/>
<rect x="134" y="420.9" width="20" height="19.5" fill="#999999"/>
<rect x="198.2" y="420.9" width="20" height="19.5" fill="#6b6b6b"/>
<text x="47.2" y="460.6" font-size="18.4" fill="#000">|00...011</text>
<path d="M117.92 447.21 L122.70 455.12 L117.92 463.03" fill="none" stroke="#000" stroke-width="1.62" stroke-linejoin="miter"/>
<rect x="134" y="443.8" width="20" height="19.5" fill="#404040"/>
<rect x="198.2" y="443.8" width="20" height="19.5" fill="#b9b9b9"/>
<text x="47.2" y="483.4" font-size="18.4" fill="#000">|00...100</text>
<path d="M119.28 470.06 L124.06 477.97 L119.28 485.88" fill="none" stroke="#000" stroke-width="1.62" stroke-linejoin="miter"/>
<rect x="134" y="466.6" width="20" height="19.5" fill="#9c9c9c"/>
<rect x="198.2" y="466.6" width="20" height="19.5" fill="#aeaeae"/>
<text x="47.2" y="506.2" font-size="18.4" fill="#000">|00...101</text>
<path d="M119.28 492.91 L124.06 500.82 L119.28 508.73" fill="none" stroke="#000" stroke-width="1.62" stroke-linejoin="miter"/>
<rect x="134" y="489.5" width="20" height="19.5" fill="#aeaeae"/>
<rect x="198.2" y="489.5" width="20" height="19.5" fill="#6b6b6b"/>
<text x="47.2" y="529.1" font-size="18.4" fill="#000">|00...110</text>
<path d="M117.92 515.76 L122.70 523.67 L117.92 531.58" fill="none" stroke="#000" stroke-width="1.62" stroke-linejoin="miter"/>
<rect x="134" y="512.4" width="20" height="19.5" fill="#9b9b9b"/>
<rect x="198.2" y="512.4" width="20" height="19.5" fill="#9e9e9e"/>
<text x="47.2" y="607.0" font-size="18.4" fill="#000">|11...011</text>
<path d="M116.54 593.66 L121.33 601.57 L116.54 609.48" fill="none" stroke="#000" stroke-width="1.62" stroke-linejoin="miter"/>
<rect x="134" y="590.2" width="20" height="19.5" fill="#adadad"/>
<rect x="198.2" y="590.2" width="20" height="19.5" fill="#b0b0b0"/>
<text x="47.2" y="629.9" font-size="18.4" fill="#000">|11...100</text>
<path d="M117.92 616.51 L122.70 624.42 L117.92 632.33" fill="none" stroke="#000" stroke-width="1.62" stroke-linejoin="miter"/>
<rect x="134" y="613.1" width="20" height="19.5" fill="#dcdcdc"/>
<rect x="198.2" y="613.1" width="20" height="19.5" fill="#9e9e9e"/>
<text x="47.2" y="652.7" font-size="18.4" fill="#000">|11...101</text>
<path d="M117.92 639.36 L122.70 647.27 L117.92 655.18" fill="none" stroke="#000" stroke-width="1.62" stroke-linejoin="miter"/>
<rect x="134" y="636.0" width="20" height="19.5" fill="#b5b5b5"/>
<rect x="198.2" y="636.0" width="20" height="19.5" fill="#b8b8b8"/>
<text x="47.2" y="675.5" font-size="18.4" fill="#000">|11...110</text>
<path d="M116.54 662.21 L121.33 670.12 L116.54 678.03" fill="none" stroke="#000" stroke-width="1.62" stroke-linejoin="miter"/>
<rect x="134" y="658.8" width="20" height="19.5" fill="#696969"/>
<rect x="198.2" y="658.8" width="20" height="19.5" fill="#a0a0a0"/>
<text x="47.2" y="698.4" font-size="18.4" fill="#000">|11...111</text>
<path d="M115.18 685.06 L119.97 692.97 L115.18 700.88" fill="none" stroke="#000" stroke-width="1.62" stroke-linejoin="miter"/>
<rect x="134" y="681.6" width="20" height="19.5" fill="#cbcbcb"/>
<rect x="198.2" y="681.6" width="20" height="19.5" fill="#404040"/>
<circle cx="81.8" cy="544.6" r="1.35" fill="#231815"/>
<circle cx="81.8" cy="559.8" r="1.35" fill="#231815"/>
<circle cx="81.8" cy="574.9" r="1.35" fill="#231815"/>
<circle cx="144" cy="544.6" r="1.35" fill="#231815"/>
<circle cx="144" cy="559.8" r="1.35" fill="#231815"/>
<circle cx="144" cy="574.9" r="1.35" fill="#231815"/>
<circle cx="208.2" cy="544.6" r="1.35" fill="#231815"/>
<circle cx="208.2" cy="559.8" r="1.35" fill="#231815"/>
<circle cx="208.2" cy="574.9" r="1.35" fill="#231815"/>
<path d="M371 352.3H835" stroke="#000" stroke-width="3" fill="none"/>
<path d="M371 390.7H835" stroke="#000" stroke-width="3" fill="none"/>
<path d="M371 429.0H835" stroke="#000" stroke-width="3" fill="none"/>
<path d="M371 467.4H835" stroke="#000" stroke-width="3" fill="none"/>
<path d="M371 505.8H835" stroke="#000" stroke-width="3" fill="none"/>
<path d="M371 544.1H835" stroke="#000" stroke-width="3" fill="none"/>
<path d="M371 582.5H835" stroke="#000" stroke-width="3" fill="none"/>
<path d="M371 620.9H835" stroke="#000" stroke-width="3" fill="none"/>
<path d="M371 659.3H835" stroke="#000" stroke-width="3" fill="none"/>
<path d="M371 697.6H835" stroke="#000" stroke-width="3" fill="none"/>
<text x="290.8" y="359.5" font-size="24.5" fill="#000">Q</text>
<text x="309.9" y="362.6" font-size="15" fill="#000">1</text>
<text x="334.8" y="359.6" font-size="25" fill="#000">|0</text>
<path d="M356.33 341.48 L362.83 352.23 L356.33 362.98" fill="none" stroke="#000" stroke-width="2.20" stroke-linejoin="miter"/>
<text x="290.8" y="397.9" font-size="24.5" fill="#000">Q</text>
<text x="309.9" y="401.0" font-size="15" fill="#000">2</text>
<text x="334.8" y="398.0" font-size="25" fill="#000">|0</text>
<path d="M356.33 379.85 L362.83 390.60 L356.33 401.35" fill="none" stroke="#000" stroke-width="2.20" stroke-linejoin="miter"/>
<text x="290.8" y="436.2" font-size="24.5" fill="#000">Q</text>
<text x="309.9" y="439.3" font-size="15" fill="#000">3</text>
<text x="334.8" y="436.3" font-size="25" fill="#000">|0</text>
<path d="M356.33 418.22 L362.83 428.97 L356.33 439.72" fill="none" stroke="#000" stroke-width="2.20" stroke-linejoin="miter"/>
<text x="290.8" y="474.6" font-size="24.5" fill="#000">Q</text>
<text x="309.9" y="477.7" font-size="15" fill="#000">4</text>
<text x="334.8" y="474.7" font-size="25" fill="#000">|0</text>
<path d="M356.33 456.58 L362.83 467.33 L356.33 478.08" fill="none" stroke="#000" stroke-width="2.20" stroke-linejoin="miter"/>
<text x="290.8" y="513.0" font-size="24.5" fill="#000">Q</text>
<text x="309.9" y="516.1" font-size="15" fill="#000">5</text>
<text x="334.8" y="513.1" font-size="25" fill="#000">|0</text>
<path d="M356.33 494.95 L362.83 505.70 L356.33 516.45" fill="none" stroke="#000" stroke-width="2.20" stroke-linejoin="miter"/>
<text x="290.8" y="551.4" font-size="24.5" fill="#000">Q</text>
<text x="309.9" y="554.4" font-size="15" fill="#000">6</text>
<text x="334.8" y="551.4" font-size="25" fill="#000">|0</text>
<path d="M356.33 533.32 L362.83 544.07 L356.33 554.82" fill="none" stroke="#000" stroke-width="2.20" stroke-linejoin="miter"/>
<text x="290.8" y="589.7" font-size="24.5" fill="#000">Q</text>
<text x="309.9" y="592.8" font-size="15" fill="#000">7</text>
<text x="334.8" y="589.8" font-size="25" fill="#000">|0</text>
<path d="M356.33 571.69 L362.83 582.44 L356.33 593.19" fill="none" stroke="#000" stroke-width="2.20" stroke-linejoin="miter"/>
<text x="290.8" y="628.1" font-size="24.5" fill="#000">Q</text>
<text x="309.9" y="631.2" font-size="15" fill="#000">8</text>
<text x="334.8" y="628.2" font-size="25" fill="#000">|0</text>
<path d="M356.33 610.06 L362.83 620.81 L356.33 631.56" fill="none" stroke="#000" stroke-width="2.20" stroke-linejoin="miter"/>
<text x="290.8" y="666.5" font-size="24.5" fill="#000">Q</text>
<text x="309.9" y="669.6" font-size="15" fill="#000">9</text>
<text x="334.8" y="666.6" font-size="25" fill="#000">|0</text>
<path d="M356.33 648.43 L362.83 659.18 L356.33 669.93" fill="none" stroke="#000" stroke-width="2.20" stroke-linejoin="miter"/>
<text x="290.8" y="704.8" font-size="24.5" fill="#000">Q</text>
<text x="309.9" y="707.9" font-size="15" fill="#000">10</text>
<text x="334.8" y="704.9" font-size="25" fill="#000">|0</text>
<path d="M356.33 686.80 L362.83 697.55 L356.33 708.30" fill="none" stroke="#000" stroke-width="2.20" stroke-linejoin="miter"/>
<rect x="399.5" y="328.5" width="84.19999999999999" height="393.5" rx="26.5" fill="#f7f7f7" stroke="#808080" stroke-width="3"/>
<rect x="505.8" y="328.5" width="84.69999999999999" height="190.5" rx="26.5" fill="#f8d9d9" stroke="#8c0b0b" stroke-width="3"/>
<rect x="505.8" y="531" width="84.69999999999999" height="191" rx="26.5" fill="#f8d9d9" stroke="#8c0b0b" stroke-width="3"/>
<rect x="612.7" y="328.5" width="84.29999999999995" height="190.5" rx="26.5" fill="#ddeaf7" stroke="#5b7fa7" stroke-width="3"/>
<rect x="612.7" y="531" width="84.29999999999995" height="191" rx="26.5" fill="#e0efd9" stroke="#688f7a" stroke-width="3"/>
<rect x="719.2" y="328.5" width="84.5" height="190.5" rx="26.5" fill="#e8dbf8" stroke="#5a1888" stroke-width="3"/>
<rect x="719.2" y="531" width="84.5" height="191" rx="26.5" fill="#e8dbf8" stroke="#5a1888" stroke-width="3"/>
<text transform="translate(449,524.5) rotate(-90)" font-size="29.5" text-anchor="middle" fill="#000">State preparation</text>
<text x="513.2" y="433.5" font-size="29" fill="#000">QFT</text>
<path d="M520.5 409.9 L542.0 403.6 L563.6 409.9" fill="none" stroke="#000" stroke-width="1.9" stroke-linejoin="miter"/>
<text x="572.4000000000001" y="439.7" font-size="20.4" font-style="italic" fill="#000">x</text>
<text x="513.2" y="635.9" font-size="29" fill="#000">QFT</text>
<path d="M520.5 612.3 L542.0 606.0 L563.6 612.3" fill="none" stroke="#000" stroke-width="1.9" stroke-linejoin="miter"/>
<text x="572.4000000000001" y="642.1" font-size="20.4" font-style="italic" fill="#000">y</text>
<text x="726.5" y="434.6" font-size="29" fill="#000">QFT</text>
<path d="M733.8 411.0 L755.3 404.70000000000005 L776.9 411.0" fill="none" stroke="#000" stroke-width="1.9" stroke-linejoin="miter"/>
<text x="785.7" y="440.8" font-size="20.4" font-style="italic" fill="#000">x</text>
<path d="M790.05 403.0V420.8M785.0 407.6H795.1" fill="none" stroke="#000" stroke-width="1.7"/>
<text x="726.5" y="637.1" font-size="29" fill="#000">QFT</text>
<path d="M733.8 613.5 L755.3 607.2 L776.9 613.5" fill="none" stroke="#000" stroke-width="1.9" stroke-linejoin="miter"/>
<text x="785.7" y="643.3000000000001" font-size="20.4" font-style="italic" fill="#000">y</text>
<path d="M790.05 605.5V623.3000000000001M785.0 610.1H795.1" fill="none" stroke="#000" stroke-width="1.7"/>
<text x="616.3" y="437.2" font-size="29.5" fill="#000">e</text>
<text x="632.8" y="422.5" font-size="19.5" fill="#000">−i<tspan font-style="italic">k</tspan></text>
<text x="660.4" y="411.9" font-size="12.6" fill="#000">2</text>
<text x="660.2" y="427.0" font-size="13" font-style="italic" fill="#000">x</text>
<path d="M653.6 406.9 L656 403.9 L658.4 406.9" fill="none" stroke="#000" stroke-width="1"/>
<text x="670" y="422.5" font-size="19.5" fill="#000"><tspan font-style="italic">t</tspan>/2</text>
<text x="616.3" y="639.4" font-size="29.5" fill="#000">e</text>
<text x="632.8" y="624.6999999999999" font-size="19.5" fill="#000">−i<tspan font-style="italic">k</tspan></text>
<text x="660.4" y="614.0999999999999" font-size="12.6" fill="#000">2</text>
<text x="660.2" y="629.1999999999999" font-size="13" font-style="italic" fill="#000">y</text>
<path d="M653.6 609.0999999999999 L656 606.0999999999999 L658.4 609.0999999999999" fill="none" stroke="#000" stroke-width="1"/>
<text x="670" y="624.6999999999999" font-size="19.5" fill="#000"><tspan font-style="italic">t</tspan>/2</text>
<rect x="834.9" y="338.2" width="38.7" height="27.9" rx="7" fill="#fefefe" stroke="#231815" stroke-width="1.9"/>
<path d="M837.2 357.8 Q854 339.7 871.6 357.8" fill="none" stroke="#231815" stroke-width="1.7"/>
<path d="M851.3 359.2 L865.2 347.0" fill="none" stroke="#231815" stroke-width="1.9"/>
<path d="M869 343.5 L866.9 351.5 L861.6 345.7 Z" fill="#231815"/>
<rect x="834.9" y="376.6" width="38.7" height="27.9" rx="7" fill="#fefefe" stroke="#231815" stroke-width="1.9"/>
<path d="M837.2 396.2 Q854 378.1 871.6 396.2" fill="none" stroke="#231815" stroke-width="1.7"/>
<path d="M851.3 397.6 L865.2 385.4" fill="none" stroke="#231815" stroke-width="1.9"/>
<path d="M869 381.9 L866.9 389.9 L861.6 384.1 Z" fill="#231815"/>
<rect x="834.9" y="414.9" width="38.7" height="27.9" rx="7" fill="#fefefe" stroke="#231815" stroke-width="1.9"/>
<path d="M837.2 434.5 Q854 416.4 871.6 434.5" fill="none" stroke="#231815" stroke-width="1.7"/>
<path d="M851.3 435.9 L865.2 423.7" fill="none" stroke="#231815" stroke-width="1.9"/>
<path d="M869 420.2 L866.9 428.2 L861.6 422.4 Z" fill="#231815"/>
<rect x="834.9" y="453.3" width="38.7" height="27.9" rx="7" fill="#fefefe" stroke="#231815" stroke-width="1.9"/>
<path d="M837.2 472.9 Q854 454.8 871.6 472.9" fill="none" stroke="#231815" stroke-width="1.7"/>
<path d="M851.3 474.3 L865.2 462.1" fill="none" stroke="#231815" stroke-width="1.9"/>
<path d="M869 458.6 L866.9 466.6 L861.6 460.8 Z" fill="#231815"/>
<rect x="834.9" y="491.7" width="38.7" height="27.9" rx="7" fill="#fefefe" stroke="#231815" stroke-width="1.9"/>
<path d="M837.2 511.3 Q854 493.2 871.6 511.3" fill="none" stroke="#231815" stroke-width="1.7"/>
<path d="M851.3 512.7 L865.2 500.5" fill="none" stroke="#231815" stroke-width="1.9"/>
<path d="M869 497.0 L866.9 505.0 L861.6 499.2 Z" fill="#231815"/>
<rect x="834.9" y="530.0" width="38.7" height="27.9" rx="7" fill="#fefefe" stroke="#231815" stroke-width="1.9"/>
<path d="M837.2 549.6 Q854 531.5 871.6 549.6" fill="none" stroke="#231815" stroke-width="1.7"/>
<path d="M851.3 551.0 L865.2 538.9" fill="none" stroke="#231815" stroke-width="1.9"/>
<path d="M869 535.4 L866.9 543.4 L861.6 537.5 Z" fill="#231815"/>
<rect x="834.9" y="568.4" width="38.7" height="27.9" rx="7" fill="#fefefe" stroke="#231815" stroke-width="1.9"/>
<path d="M837.2 588.0 Q854 569.9 871.6 588.0" fill="none" stroke="#231815" stroke-width="1.7"/>
<path d="M851.3 589.4 L865.2 577.2" fill="none" stroke="#231815" stroke-width="1.9"/>
<path d="M869 573.7 L866.9 581.7 L861.6 575.9 Z" fill="#231815"/>
<rect x="834.9" y="606.8" width="38.7" height="27.9" rx="7" fill="#fefefe" stroke="#231815" stroke-width="1.9"/>
<path d="M837.2 626.4 Q854 608.3 871.6 626.4" fill="none" stroke="#231815" stroke-width="1.7"/>
<path d="M851.3 627.8 L865.2 615.6" fill="none" stroke="#231815" stroke-width="1.9"/>
<path d="M869 612.1 L866.9 620.1 L861.6 614.3 Z" fill="#231815"/>
<rect x="834.9" y="645.2" width="38.7" height="27.9" rx="7" fill="#fefefe" stroke="#231815" stroke-width="1.9"/>
<path d="M837.2 664.8 Q854 646.7 871.6 664.8" fill="none" stroke="#231815" stroke-width="1.7"/>
<path d="M851.3 666.2 L865.2 654.0" fill="none" stroke="#231815" stroke-width="1.9"/>
<path d="M869 650.5 L866.9 658.5 L861.6 652.7 Z" fill="#231815"/>
<rect x="834.9" y="683.5" width="38.7" height="27.9" rx="7" fill="#fefefe" stroke="#231815" stroke-width="1.9"/>
<path d="M837.2 703.1 Q854 685.0 871.6 703.1" fill="none" stroke="#231815" stroke-width="1.7"/>
<path d="M851.3 704.5 L865.2 692.3" fill="none" stroke="#231815" stroke-width="1.9"/>
<path d="M869 688.8 L866.9 696.8 L861.6 691.0 Z" fill="#231815"/>
</svg>
</body></html>
